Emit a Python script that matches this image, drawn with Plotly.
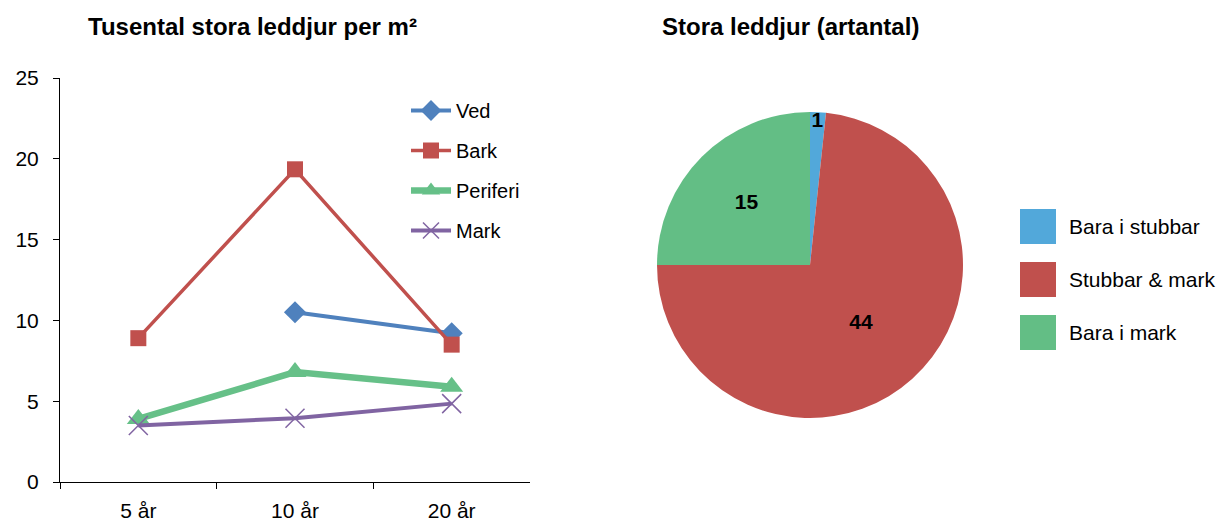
import plotly.graph_objects as go

# ---- data ----
age_cats = ["5 år", "10 år", "20 år"]
ved = [None, 10.5, 9.2]
bark = [8.9, 19.35, 8.5]
periferi = [3.9, 6.8, 5.9]
mark = [3.5, 3.95, 4.85]

pie_labels = ["Bara i stubbar", "Stubbar & mark", "Bara i mark"]
pie_values = [1, 44, 15]
pie_colors = ["#52A8DA", "#C0504D", "#63BE85"]

FONT = "Liberation Sans, Arial, sans-serif"
W, H = 1217, 524

fig = go.Figure()

series = [
    ("Ved", ved, "#4F81BD", 4, dict(symbol="diamond", size=17, color="#4F81BD")),
    ("Bark", bark, "#C0504D", 3.5, dict(symbol="square", size=16, color="#C0504D")),
    ("Periferi", periferi, "#66C088", 6.5, dict(symbol="triangle-up", size=20, color="#66C088")),
    ("Mark", mark, "#8064A2", 4, dict(symbol="x-thin", size=19, line=dict(color="#8064A2", width=1.5))),
]
for name, vals, col, w, mk in series:
    fig.add_trace(go.Scatter(
        x=age_cats, y=vals, name=name, mode="lines+markers",
        line=dict(color=col, width=w), marker=mk, legendgroup=name,
        xaxis="x", yaxis="y", connectgaps=False,
    ))

fig.add_trace(go.Pie(
    labels=pie_labels, values=pie_values, sort=False, direction="clockwise",
    rotation=0, marker=dict(colors=pie_colors),
    texttemplate="%{value}", textposition="inside",
    insidetextorientation="horizontal",
    textfont=dict(family=FONT, size=21, color="black", weight="bold"),
    domain=dict(x=[657 / W, 963 / W], y=[(H - 418) / H, (H - 112) / H]),
    showlegend=False, hoverinfo="label+value", automargin=False,
))

# custom pie legend (big square swatches)
leg_y = [226.5, 279.5, 332.5]
for lab, col, yy in zip(pie_labels, pie_colors, leg_y):
    fig.add_shape(type="rect", xref="paper", yref="paper",
                  x0=1020 / W, x1=1056 / W,
                  y0=(H - yy - 17.5) / H, y1=(H - yy + 17.5) / H,
                  fillcolor=col, line=dict(width=0))
    fig.add_annotation(x=1067 / W, y=(H - yy) / H, xref="paper", yref="paper",
                       text=lab, showarrow=False, xanchor="left", yanchor="middle",
                       font=dict(family=FONT, size=21, color="black"))

fig.add_annotation(x=86 / W, y=(H - 26) / H, xref="paper", yref="paper",
                   text="<b>Tusental stora leddjur per m²</b>", showarrow=False,
                   xanchor="left", yanchor="middle",
                   font=dict(family=FONT, size=24, color="black"))
fig.add_annotation(x=660 / W, y=(H - 26) / H, xref="paper", yref="paper",
                   text="<b>Stora leddjur (artantal)</b>", showarrow=False,
                   xanchor="left", yanchor="middle",
                   font=dict(family=FONT, size=24, color="black"))

fig.update_layout(
    width=W, height=H, autosize=False,
    margin=dict(l=0, r=0, t=0, b=0, pad=0, autoexpand=False),
    paper_bgcolor="white", plot_bgcolor="white",
    font=dict(family=FONT, size=21, color="black"),
    uniformtext=dict(minsize=21, mode="show"),
    xaxis=dict(domain=[60 / W, 530 / W], showline=True, linecolor="black", linewidth=1,
               ticks="outside", ticklen=6, tickcolor="black", tickson="boundaries",
               showgrid=False, zeroline=False, tickfont=dict(size=21),
               ticklabelstandoff=10,
               range=[-0.5, 2.5], anchor="y", automargin=False, fixedrange=True),
    yaxis=dict(domain=[(H - 482) / H, (H - 78) / H], range=[0, 25],
               dtick=5, showline=True, linecolor="black", linewidth=1,
               ticks="outside", ticklen=6, tickcolor="black", showgrid=False,
               zeroline=False, tickfont=dict(size=21), anchor="x", automargin=False,
               ticklabelstandoff=10, fixedrange=True),
    legend=dict(x=406 / W, y=(H - 91) / H, xanchor="left", yanchor="top",
                font=dict(size=20), bgcolor="rgba(0,0,0,0)", tracegroupgap=11,
                itemwidth=40),
)

fig.write_html("out.html", config={"displayModeBar": False},
               post_script="document.body.style.margin='0';document.body.style.overflow='hidden';")
